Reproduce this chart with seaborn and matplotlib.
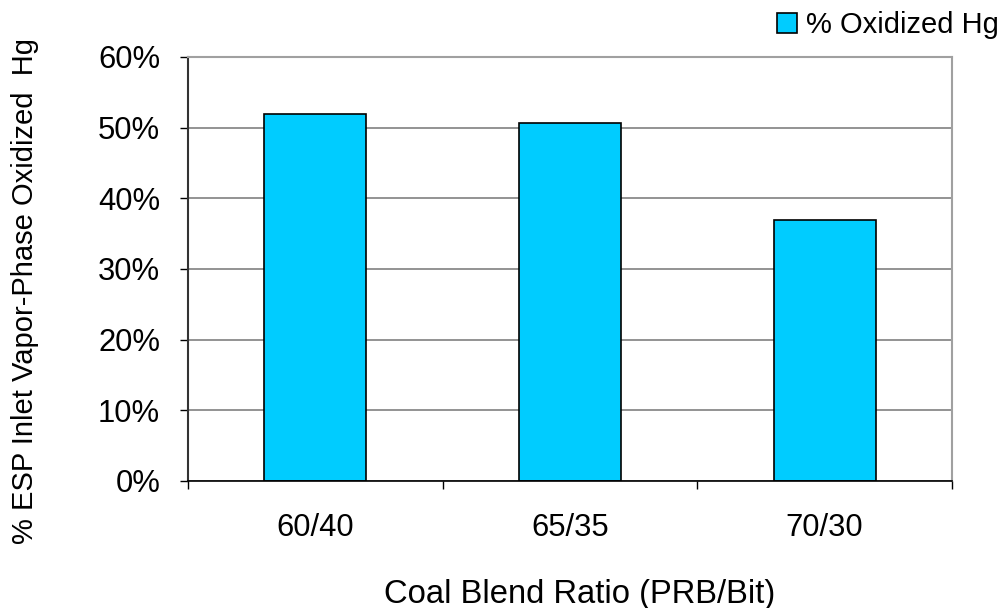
import matplotlib
matplotlib.use("Agg")
import matplotlib.pyplot as plt
import matplotlib.ticker as mticker
import seaborn as sns
import pandas as pd

# Data
ratios = ["60/40", "65/35", "70/30"]
oxidized_hg = [0.519, 0.507, 0.370]
series_name = "% Oxidized Hg"
y_ticks = [0.0, 0.1, 0.2, 0.3, 0.4, 0.5, 0.6]

df = pd.DataFrame({"ratio": ratios, "value": oxidized_hg, "series": series_name})

sns.set_theme(style="white")
plt.rcParams["font.family"] = ["Liberation Sans", "DejaVu Sans"]
plt.rcParams["text.color"] = "black"
plt.rcParams["xtick.color"] = "black"
plt.rcParams["ytick.color"] = "black"
plt.rcParams["axes.labelcolor"] = "black"

W, H = 1002, 608
fig = plt.figure(figsize=(W / 100, H / 100), dpi=100)
ax = fig.add_axes([188 / W, 1 - 481 / H, (952 - 188) / W, (481 - 57) / H])

sns.barplot(data=df, x="ratio", y="value", hue="series", palette=["#00CCFF"],
            saturation=1, width=0.4, edgecolor="black", linewidth=1.2,
            dodge=False, ax=ax)

ax.set_xlim(-0.5, len(ratios) - 0.5)
ax.set_ylim(0, 0.6)
ax.set_yticks(y_ticks)
ax.yaxis.set_major_formatter(mticker.PercentFormatter(1.0, decimals=0))

# category labels centred, tick marks at category boundaries
ax.set_xticks(range(len(ratios)))
ax.set_xticklabels(ratios)
ax.set_xticks([i - 0.5 for i in range(len(ratios) + 1)], minor=True)
ax.tick_params(axis="x", which="major", length=0, pad=23, labelsize=22.3)
ax.tick_params(axis="x", which="minor", length=6, width=1, direction="out", bottom=True)
ax.tick_params(axis="y", which="major", length=6, width=1, direction="out",
               left=True, pad=14, labelsize=22.3)

ax.yaxis.grid(True, color="#808080", linewidth=1.2)
ax.xaxis.grid(False)
ax.set_axisbelow(True)

for side in ["top", "right"]:
    ax.spines[side].set_color("#a0a0a0")
    ax.spines[side].set_linewidth(1.5)
ax.spines["left"].set_color("#333333")
ax.spines["left"].set_linewidth(1.5)
ax.spines["bottom"].set_color("black")
ax.spines["bottom"].set_linewidth(1.2)

ax.set_xlabel("")
ax.set_ylabel("")
fig.text(580 / W, 1 - 603 / H, "Coal Blend Ratio (PRB/Bit)", fontsize=23.6,
         ha="center", va="baseline")
fig.text(33 / W, 1 - 291 / H, "% ESP Inlet Vapor-Phase Oxidized  Hg", fontsize=21,
         rotation=90, rotation_mode="anchor", ha="center", va="baseline")

handles, labels = ax.get_legend_handles_labels()
ax.get_legend().remove()
fig.legend(handles, labels, loc="upper right", bbox_to_anchor=(999 / W, 1 - 11 / H),
           frameon=False, fontsize=21, handlelength=0.685, handleheight=0.685,
           handletextpad=0.3, borderpad=0, borderaxespad=0)

fig.savefig("out.png", dpi=100)
